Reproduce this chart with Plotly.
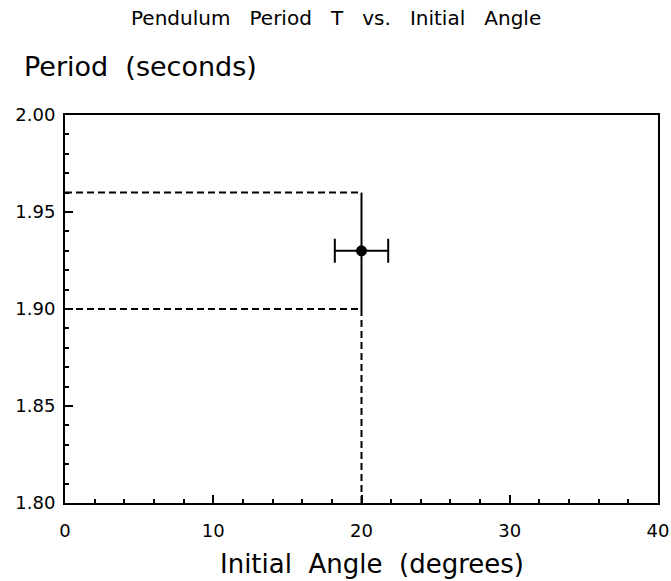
import plotly.graph_objects as go

# Data
angle = [20]
period = [1.93]
angle_err = [1.8]
period_err = [0.03]
period_low = [1.90]
period_high = [1.96]
x_range = [0, 40]
y_range = [1.80, 2.00]
x_ticks = [0, 10, 20, 30, 40]
y_ticks = [1.80, 1.85, 1.90, 1.95, 2.00]
y_ticklabels = ["1.80", "1.85", "1.90", "1.95", "2.00"]

FONT = "DejaVu Sans"
dash_style = dict(color="black", width=2, dash="7px,4px")

fig = go.Figure()

# dashed guide lines from the error range to the axes
for yv in (period_high[0], period_low[0]):
    fig.add_trace(go.Scatter(x=[x_range[0], angle[0]], y=[yv, yv], mode="lines",
                             line=dash_style, showlegend=False, hoverinfo="skip"))
fig.add_trace(go.Scatter(x=[angle[0], angle[0]], y=[y_range[0], period_low[0]], mode="lines",
                         line=dash_style, showlegend=False, hoverinfo="skip"))

# data point with error bars
fig.add_trace(go.Scatter(
    x=angle, y=period, mode="markers",
    marker=dict(color="black", size=11),
    error_x=dict(type="data", array=angle_err, color="black", thickness=2, width=12),
    error_y=dict(type="data", array=period_err, color="black", thickness=2, width=0),
    showlegend=False,
))

axis_common = dict(
    showline=True, linecolor="black", linewidth=2, mirror=True,
    ticks="inside", ticklen=8, tickwidth=2, tickcolor="black",
    showgrid=False, zeroline=False, automargin=False,
    tickfont=dict(family=FONT, size=18, color="black"),
)

fig.update_xaxes(range=x_range, tickvals=x_ticks,
                 minor=dict(dtick=2, ticks="inside", ticklen=4, tickwidth=2, tickcolor="black"),
                 ticklabelstandoff=10, **axis_common)
fig.update_yaxes(range=y_range, tickvals=y_ticks, ticktext=y_ticklabels,
                 minor=dict(dtick=0.01, ticks="inside", ticklen=4, tickwidth=2, tickcolor="black"),
                 ticklabelstandoff=4, **axis_common)

fig.update_layout(
    width=671, height=581,
    margin=dict(l=65, r=13, t=115, b=78, autoexpand=False),
    plot_bgcolor="white", paper_bgcolor="white",
    annotations=[
        dict(text="Pendulum   Period   T   vs.   Initial   Angle", xref="paper", yref="paper",
             x=0.457, y=1.25, xanchor="center", yanchor="middle", showarrow=False,
             font=dict(family=FONT, size=20, color="black")),
        dict(text="Period  (seconds)", xref="paper", yref="paper",
             x=-0.073, y=1.125, xanchor="left", yanchor="middle", showarrow=False,
             font=dict(family=FONT, size=27, color="black")),
        dict(text="Initial  Angle  (degrees)", xref="paper", yref="paper",
             x=0.518, y=-0.158, xanchor="center", yanchor="middle", showarrow=False,
             font=dict(family=FONT, size=26, color="black")),
    ],
)

fig.write_html("out.html")
